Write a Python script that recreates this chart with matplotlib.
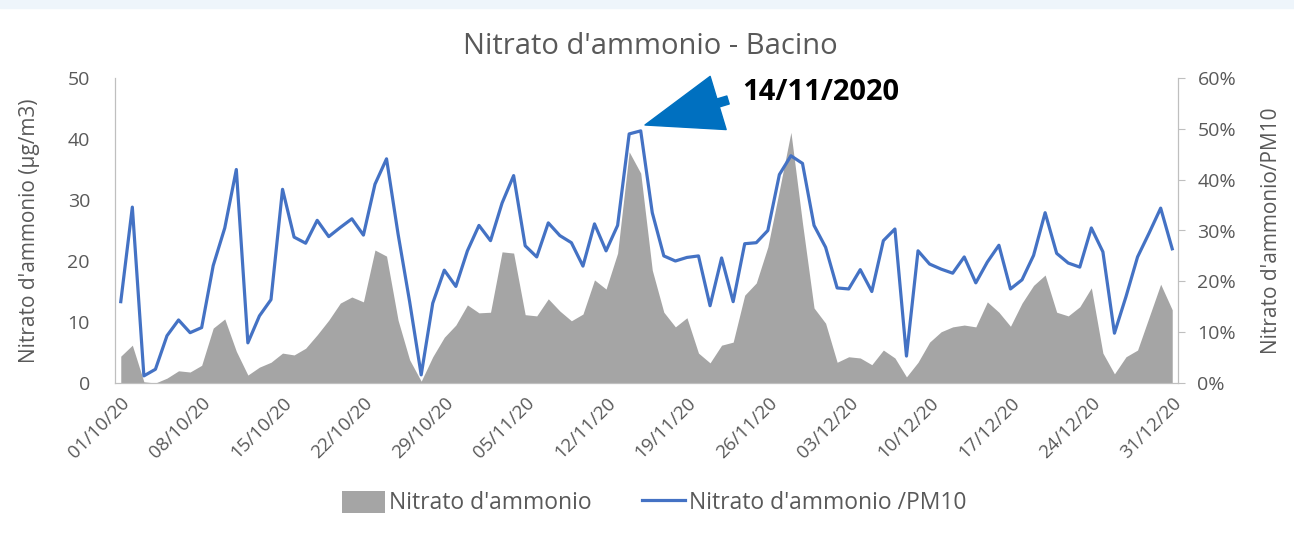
import numpy as np
import pandas as pd
import matplotlib
matplotlib.use("Agg")
import matplotlib.pyplot as plt
from matplotlib.patches import Rectangle, Patch
from matplotlib.lines import Line2D
from matplotlib.ticker import PercentFormatter

plt.rcParams['font.family'] = ['Open Sans', 'DejaVu Sans']

# daily values, 01/10/2020 - 31/12/2020
dates = pd.date_range("2020-10-01", "2020-12-31", freq="D")

nitrato = [4.4, 6.2, 0.2, 0.0, 0.8, 2.0, 1.8, 2.9, 9.0, 10.5,
           5.2, 1.3, 2.6, 3.4, 4.9, 4.6, 5.7, 7.9, 10.3, 13.1,
           14.1, 13.3, 21.8, 20.8, 10.3, 3.8, 0.3, 4.3, 7.5, 9.5,
           12.8, 11.5, 11.6, 21.5, 21.3, 11.2, 11.0, 13.8, 11.8, 10.2,
           11.3, 16.9, 15.4, 21.3, 37.9, 34.4, 18.5, 11.6, 9.2, 10.7,
           4.9, 3.3, 6.2, 6.7, 14.4, 16.4, 22.3, 31.6, 41.1, 26.2,
           12.3, 9.8, 3.4, 4.3, 4.1, 3.0, 5.4, 4.1, 1.0, 3.4,
           6.7, 8.4, 9.2, 9.5, 9.2, 13.3, 11.6, 9.3, 13.1, 16.0,
           17.7, 11.6, 11.0, 12.5, 15.6, 4.9, 1.5, 4.3, 5.4, 10.8,
           16.2, 12.0]

rapporto_pm10 = [16.0, 34.6, 1.4, 2.7, 9.3, 12.4, 9.9, 10.9, 23.1, 30.5,
                 42.0, 7.9, 13.2, 16.4, 38.1, 28.7, 27.5, 32.0, 28.8, 30.6,
                 32.3, 29.1, 39.1, 44.1, 29.3, 16.0, 1.6, 15.7, 22.2, 19.0,
                 26.0, 31.0, 28.0, 35.4, 40.8, 27.0, 24.8, 31.5, 29.0, 27.6,
                 23.0, 31.3, 26.0, 31.0, 49.0, 49.6, 33.5, 25.0, 24.0, 24.7,
                 25.0, 15.2, 24.6, 16.0, 27.4, 27.6, 30.0, 41.0, 44.7, 43.2,
                 31.0, 26.7, 18.7, 18.5, 22.3, 18.0, 28.0, 30.3, 5.3, 26.0,
                 23.4, 22.4, 21.6, 24.8, 19.7, 23.8, 27.1, 18.5, 20.3, 25.1,
                 33.5, 25.5, 23.6, 22.8, 30.5, 25.8, 9.8, 17.0, 24.8, 29.5,
                 34.4, 26.4]

tick_step = 7
annot_label = "14/11/2020"

gray = "#a5a5a5"
blue = "#4472c4"
txt = "#595959"
axcol = "#bfbfbf"

x = np.arange(len(dates))

fig = plt.figure(figsize=(12.94, 5.35), dpi=100)
fig.patches.append(Rectangle((0, 0.985), 1, 0.015, transform=fig.transFigure,
                             color="#eef5fb", zorder=0))
ax = fig.add_axes([115 / 1294, 1 - 383 / 535, (1178 - 115) / 1294, (383 - 78) / 535])
ax2 = ax.twinx()

ax.fill_between(x, nitrato, color=gray, linewidth=0, zorder=1)
ax2.plot(x, np.array(rapporto_pm10) / 100, color=blue, linewidth=2.3)

ax.set_xlim(-0.5, len(x) - 0.5)
ax.set_ylim(0, 50)
ax.set_yticks(range(0, 51, 10))
ax2.set_ylim(0, 0.6)
ax2.set_yticks(np.arange(0, 0.61, 0.1))
ax2.yaxis.set_major_formatter(PercentFormatter(1.0, decimals=0))

ax.set_xticks(x[::tick_step])
ax.set_xticklabels(dates[::tick_step].strftime("%d/%m/%y"), rotation=45,
                   ha="right", rotation_mode="anchor")

for a in (ax, ax2):
    for s in a.spines.values():
        s.set_color(axcol)
    a.spines["top"].set_visible(False)
ax.tick_params(axis="y", length=0, labelsize=14, colors=txt, pad=18)
ax.tick_params(axis="x", length=0, labelsize=13.5, colors=txt, pad=8)
ax2.tick_params(axis="y", length=5, color=axcol, labelsize=14, labelcolor=txt, pad=9)

ax.set_ylabel("Nitrato d'ammonio (µg/m3)", fontsize=15, color=txt, labelpad=20)
ax2.set_ylabel("Nitrato d'ammonio/PM10", fontsize=15, color=txt, rotation=90, labelpad=18)

fig.text(650 / 1294, 1 - 47 / 535, "Nitrato d'ammonio - Bacino", ha="center",
         va="center", fontsize=21, color=txt)

# arrow pointing to the 14/11 peak
ax.annotate("", xy=(645, 535 - 125), xycoords="figure pixels",
            xytext=(728, 535 - 100), textcoords="figure pixels",
            arrowprops=dict(arrowstyle="simple,head_length=55,head_width=40,tail_width=6",
                            mutation_scale=1, color="#0070c0", shrinkA=0, shrinkB=0))
fig.text(742 / 1294, 1 - 93 / 535, annot_label, ha="left", va="center",
         fontsize=21, fontweight="bold", color="black")

handles = [Patch(facecolor=gray, edgecolor="none"),
           Line2D([0], [0], color=blue, linewidth=2.3)]
fig.legend(handles, ["Nitrato d'ammonio", "Nitrato d'ammonio /PM10"],
           loc="center", bbox_to_anchor=(654 / 1294, 1 - 503 / 535), ncol=2,
           frameon=False, fontsize=16.5, labelcolor=txt, handlelength=1.9,
           handleheight=1.1, handletextpad=0.15, columnspacing=2.2)

fig.savefig("out.png", dpi=100, facecolor="white")
